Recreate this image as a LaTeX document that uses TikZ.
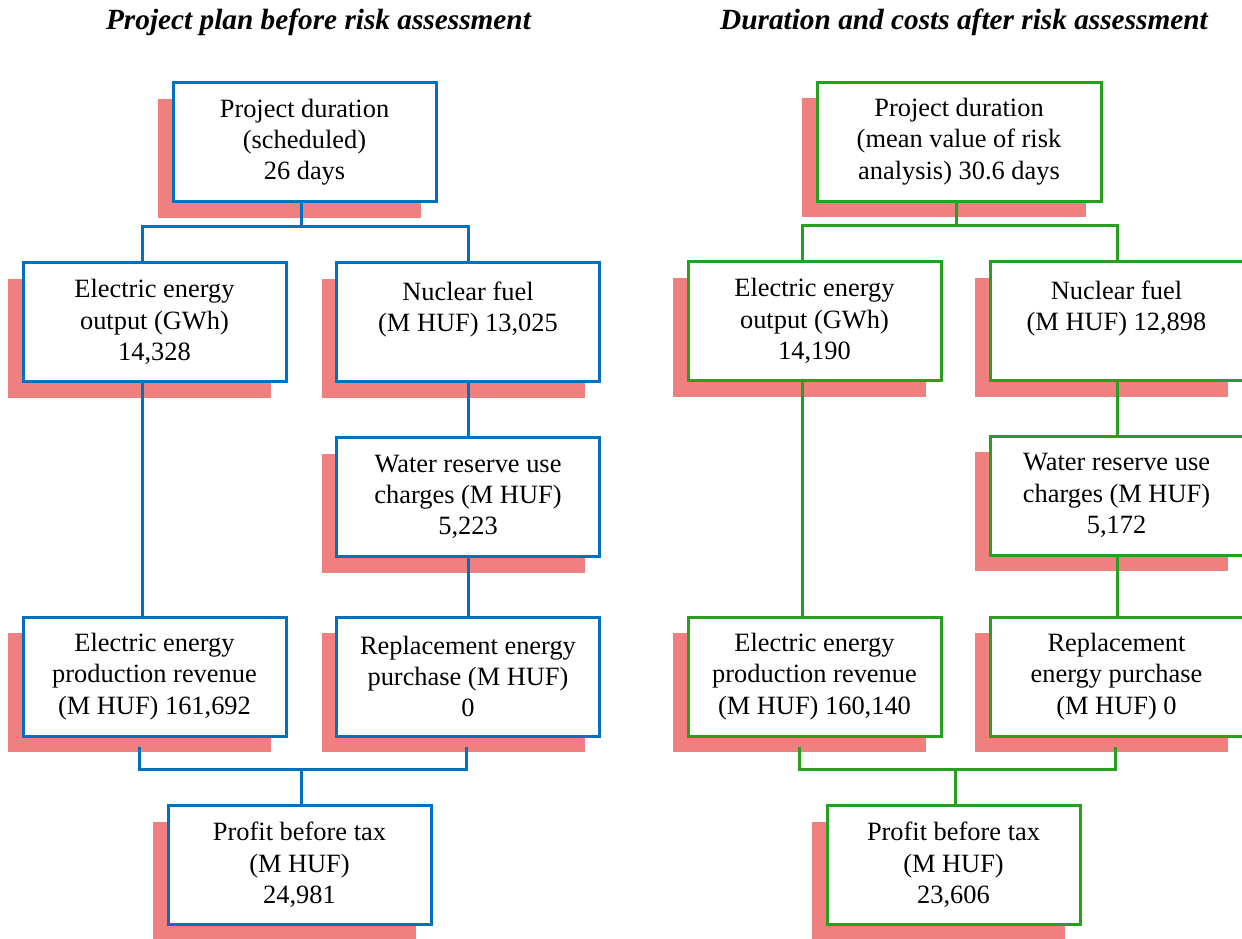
\documentclass[tikz,border=0pt]{standalone}
\usepackage{fontspec}
\setmainfont{Liberation Serif}
\usetikzlibrary{shadows}
\definecolor{sal}{RGB}{240,128,128}
\definecolor{bl}{RGB}{0,112,192}
\definecolor{gr}{RGB}{38,160,30}
\begin{document}
\begin{tikzpicture}[x=1pt,y=-1pt,
  box/.style={draw, line width=3pt, fill=white, inner sep=0pt, align=center,
    minimum width=263pt, minimum height=119pt,
    font=\fontsize{26.4}{31.3}\selectfont,
    general shadow={fill=sal, shadow xshift=-15pt, shadow yshift=-16pt}},
  narrowbox/.style={box, minimum width=253pt},
  widebox/.style={box, minimum width=284pt},
  conn/.style={line width=3pt},
  title/.style={font=\fontsize{29.3}{31}\selectfont\bfseries\itshape}]
\useasboundingbox (0,0) rectangle (1242,938);

% titles
\node[title] (t1) at (318.5,22) {Project plan before risk assessment};
\node[title] (t2) at (964,22) {Duration and costs after risk assessment};

% left diagram
\begin{scope}[every node/.append style={draw=bl}]
\node[box] (lt) at (304.5,142) {Project duration\\(scheduled)\\26 days};
\node[box] (leo) at (154.5,322) {Electric energy\\output (GWh)\\14,328};
\node[box] (lnf) at (468,322) {Nuclear fuel\\(M HUF) 13,025\\\mbox{}};
\node[box] (lwr) at (468,497) {Water reserve use\\charges (M HUF)\\5,223};
\node[box] (lrev) at (154.5,676.5) {Electric energy\\production revenue\\(M HUF) 161,692};
\node[box] (lrep) at (468,676.5) {Replacement energy\\purchase (M HUF)\\0};
\node[box] (lpr) at (299.5,865) {Profit before tax\\(M HUF)\\24,981};
\end{scope}

\coordinate (lj) at (301.7,226);
\coordinate (lbl) at (139.3,747);
\coordinate (lbr) at (466.7,747);
\coordinate (lbj) at (301.7,769.3);
\begin{scope}[bl, conn]
\draw (lt.south -| lj) -- (lj);
\draw ([xshift=-12.5pt]leo.north) -- ([xshift=-12.5pt]leo.north |- lj) -- (lnf.north |- lj) -- (lnf.north);
\draw ([xshift=-12.5pt]leo.south) -- ([xshift=-12.5pt]lrev.north);
\draw (lnf.south) -- (lwr.north);
\draw (lwr.south) -- (lrep.north);
\draw (lbl) -- (lbl |- lbj) -- (lbr |- lbj) -- (lbr);
\draw (lbj) -- (lpr.north -| lbj);
\end{scope}

% right diagram
\begin{scope}[every node/.append style={draw=gr}]
\node[widebox] (rt) at (959,141.5) {Project duration\\(mean value of risk\\analysis) 30.6 days};
\node[narrowbox] (reo) at (814.5,321) {Electric energy\\output (GWh)\\14,190};
\node[narrowbox] (rnf) at (1116.5,321) {Nuclear fuel\\(M HUF) 12,898\\\mbox{}};
\node[narrowbox] (rwr) at (1116.5,495.5) {Water reserve use\\charges (M HUF)\\5,172};
\node[narrowbox] (rrev) at (814.5,676.5) {Electric energy\\production revenue\\(M HUF) 160,140};
\node[narrowbox] (rrep) at (1116.5,676.5) {Replacement\\energy purchase\\(M HUF) 0};
\node[narrowbox] (rpr) at (953.5,865) {Profit before tax\\(M HUF)\\23,606};
\end{scope}

\coordinate (rj) at (956.7,225);
\coordinate (rbl) at (799.3,747);
\coordinate (rbr) at (1115.3,747);
\coordinate (rbj) at (955.7,769);
\begin{scope}[gr, conn]
\draw (rt.south -| rj) -- (rj);
\draw ([xshift=-12.2pt]reo.north) -- ([xshift=-12.2pt]reo.north |- rj) -- ([xshift=1.2pt]rnf.north |- rj) -- ([xshift=1.2pt]rnf.north);
\draw ([xshift=-12.2pt]reo.south) -- ([xshift=-12.2pt]reo.south |- rrev.north);
\draw ([xshift=1.2pt]rnf.south) -- ([xshift=1.2pt]rwr.north);
\draw ([xshift=1.2pt]rwr.south) -- ([xshift=1.2pt]rrep.north);
\draw (rbl) -- (rbl |- rbj) -- (rbr |- rbj) -- (rbr);
\draw (rbj) -- (rpr.north -| rbj);
\end{scope}
\end{tikzpicture}
\end{document}
